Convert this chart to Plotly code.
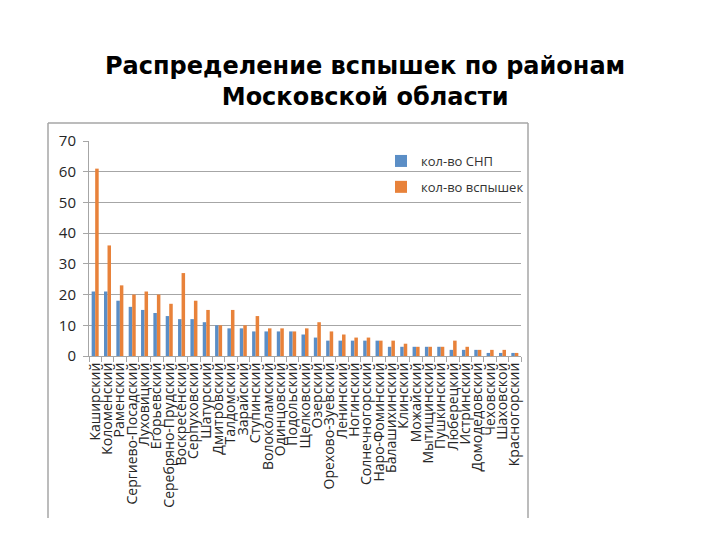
import plotly.graph_objects as go

districts = ["Каширский", "Коломенский", "Раменский", "Сергиево-Посадский", "Луховицкий",
             "Егорьевский", "Серебряно-Прудский", "Воскресенский", "Серпуховский", "Шатурский",
             "Дмитровский", "Талдомский", "Зарайский", "Ступинский", "Волоколамский",
             "Одинцовский", "Подольский", "Щелковский", "Озерский", "Орехово-Зуевский",
             "Ленинский", "Ногинский", "Солнечногорский", "Наро-Фоминский", "Балашихинский",
             "Клинский", "Можайский", "Мытищинский", "Пушкинский", "Люберецкий",
             "Истринский", "Домодедовский", "Чеховский", "Шаховской", "Красногорский"]
snp_count = [21, 21, 18, 16, 15, 14, 13, 12, 12, 11, 10, 9, 9, 8, 8, 8, 8, 7, 6, 5,
             5, 5, 5, 5, 3, 3, 3, 3, 3, 2, 2, 2, 1, 1, 1]
outbreak_count = [61, 36, 23, 20, 21, 20, 17, 27, 18, 15, 10, 15, 10, 13, 9, 9, 8, 9, 11, 8,
                  7, 6, 6, 5, 5, 4, 3, 3, 3, 5, 3, 2, 2, 2, 1]
series_names = ["кол-во СНП", "кол-во вспышек"]
title_text = "Распределение вспышек по районам<br>Московской области"

BLUE = "#5B8EC6"
ORANGE = "#E8823A"
GRID = "#A6A6A6"

fig = go.Figure()
fig.add_trace(go.Bar(x=districts, y=snp_count, name=series_names[0],
                     marker=dict(color=BLUE, line=dict(width=0)), legendgroup="a"))
fig.add_trace(go.Bar(x=districts, y=outbreak_count, name=series_names[1],
                     marker=dict(color=ORANGE, line=dict(width=0)), legendgroup="b"))

L, R, T, B = 89, 521, 141, 356
W, H = 720, 540

def px_x(p):
    return (p - L) / (R - L)

def px_y(p):
    return (B - p) / (B - T)

fig.update_layout(
    width=W, height=H,
    margin=dict(l=L, r=W - R, t=T, b=H - B, pad=0),
    paper_bgcolor="white", plot_bgcolor="white",
    barmode="group", bargap=0.43, bargroupgap=0.0,
    font=dict(family="Open Sans, Noto Sans, sans-serif", color="#262626"),
    showlegend=True,
    legend=dict(x=px_x(381), y=px_y(146), xanchor="left", yanchor="top",
                bgcolor="rgba(0,0,0,0)", font=dict(size=13, color="#333333"),
                traceorder="grouped", tracegroupgap=6, itemwidth=30),
    annotations=[dict(text="<b>" + title_text + "</b>", xref="paper", yref="paper",
                      x=px_x(365), y=px_y(50), xanchor="center", yanchor="top",
                      showarrow=False, align="center",
                      font=dict(family="DejaVu Sans, sans-serif", size=24,
                                color="black"))],
    shapes=[
        dict(type="line", xref="paper", yref="paper", x0=px_x(48), x1=px_x(528),
             y0=px_y(123), y1=px_y(123), line=dict(color=GRID, width=1.5)),
        dict(type="line", xref="paper", yref="paper", x0=px_x(48), x1=px_x(48),
             y0=px_y(123), y1=px_y(518), line=dict(color=GRID, width=1.5)),
        dict(type="line", xref="paper", yref="paper", x0=px_x(528), x1=px_x(528),
             y0=px_y(123), y1=px_y(518), line=dict(color=GRID, width=1.5)),
    ],
)

fig.update_yaxes(range=[0, 70], dtick=10, showgrid=True, gridcolor=GRID, gridwidth=1,
                 showline=True, linecolor=GRID, linewidth=1, ticks="outside",
                 ticklen=5, tickcolor=GRID, zeroline=False,
                 tickfont=dict(size=15, color="#262626"), ticklabelstandoff=4)
fig.update_xaxes(showline=True, linecolor=GRID, linewidth=1, ticks="outside",
                 ticklen=5, tickcolor=GRID, tickson="boundaries", tickangle=-90,
                 tickmode="linear", dtick=1,
                 tickfont=dict(size=14, color="#262626"), showgrid=False)

fig.write_html("out.html")
